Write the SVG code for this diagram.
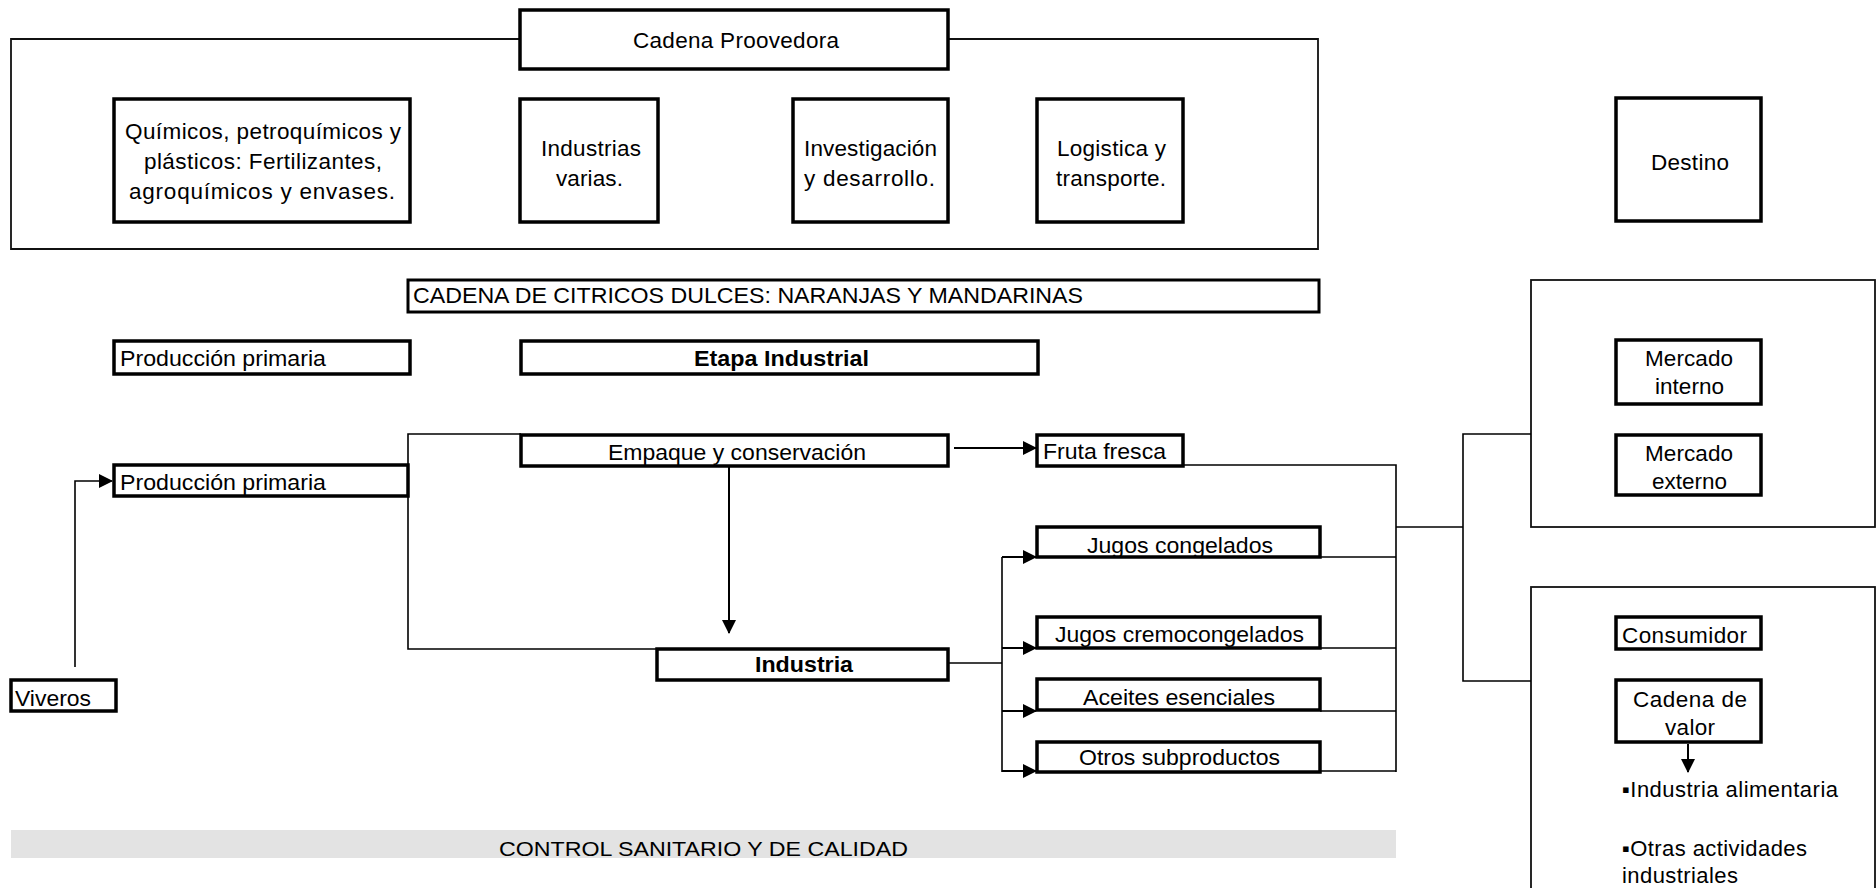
<svg xmlns="http://www.w3.org/2000/svg" width="1876" height="888" viewBox="0 0 1876 888">
<style>
  .box{fill:#fff;stroke:#000;stroke-width:3.5}
  .frame{fill:none;stroke:#111;stroke-width:1.8}
  .ln{fill:none;stroke:#000;stroke-width:1.6}
  .arr{fill:none;stroke:#000;stroke-width:2}
  text{font-family:"Liberation Sans",Arial,sans-serif;font-size:21px;fill:#000}
  .c{text-anchor:middle}
  .b{font-weight:bold}
  .k{font-size:22px}
  .t{font-size:22.5px}
</style>
<defs>
  <marker id="ah" markerUnits="userSpaceOnUse" markerWidth="14" markerHeight="16" refX="13" refY="7" orient="auto" viewBox="0 0 14 14">
    <path d="M0,0 L14,7 L0,14 Z" fill="#000"/>
  </marker>
</defs>

<rect x="11" y="830" width="1385" height="28" fill="#e3e3e3"/>
<text x="703.5" y="856" class="c" textLength="409" lengthAdjust="spacingAndGlyphs">CONTROL SANITARIO Y DE CALIDAD</text>

<g id="frames">
  <path class="frame" d="M520,39 H11 V249 H1318 V39 H948"/>
  <rect class="frame" x="1531" y="280" width="344" height="247"/>
  <rect class="frame" x="1531" y="587" width="344" height="330"/>
</g>

<g id="connectors">
  <path class="ln" d="M75,667 V481 H112" marker-end="url(#ah)"/>
  <path class="ln" d="M521,434 H408 V649 H657"/>
  <path class="arr" d="M729,467 V633" marker-end="url(#ah)"/>
  <path class="arr" d="M954,448 H1036" marker-end="url(#ah)"/>
  <path class="ln" d="M948,663 H1002"/>
  <path class="ln" d="M1002,557 V772"/>
  <path class="arr" d="M1002,557 H1036" marker-end="url(#ah)"/>
  <path class="arr" d="M1002,648 H1036" marker-end="url(#ah)"/>
  <path class="arr" d="M1002,711 H1036" marker-end="url(#ah)"/>
  <path class="arr" d="M1002,771 H1036" marker-end="url(#ah)"/>
  <path class="ln" d="M1183,465 H1396 V772"/>
  <path class="ln" d="M1320,557 H1396"/>
  <path class="ln" d="M1320,648 H1396"/>
  <path class="ln" d="M1320,711 H1396"/>
  <path class="ln" d="M1320,771 H1396"/>
  <path class="ln" d="M1396,527 H1463"/>
  <path class="ln" d="M1531,434 H1463 V681 H1531"/>
  <path class="arr" d="M1688,744 V772" marker-end="url(#ah)"/>
</g>

<g id="cadena-proovedora">
  <rect class="box" x="520" y="10" width="428" height="59"/>
  <text x="736" y="48" class="c t" textLength="206">Cadena Proovedora</text>
</g>
<g id="quimicos">
  <rect class="box" x="114" y="99" width="296" height="123"/>
  <text x="263" y="139" class="c t" textLength="276">Químicos, petroquímicos y</text>
  <text x="263" y="169" class="c t" textLength="238">plásticos: Fertilizantes,</text>
  <text x="262" y="199" class="c t" textLength="266">agroquímicos y envases.</text>
</g>
<g id="industrias-varias">
  <rect class="box" x="520" y="99" width="138" height="123"/>
  <text x="591" y="156" class="c t" textLength="100">Industrias</text>
  <text x="589.5" y="186" class="c t" textLength="67">varias.</text>
</g>
<g id="investigacion">
  <rect class="box" x="793" y="99" width="155" height="123"/>
  <text x="870.5" y="156" class="c t" textLength="133">Investigación</text>
  <text x="869.5" y="186" class="c t" textLength="131">y desarrollo.</text>
</g>
<g id="logistica">
  <rect class="box" x="1037" y="99" width="146" height="123"/>
  <text x="1111.5" y="156" class="c t" textLength="109">Logistica y</text>
  <text x="1111" y="186" class="c t" textLength="110">transporte.</text>
</g>
<g id="destino">
  <rect class="box" x="1616" y="98" width="145" height="123"/>
  <text x="1690" y="170" class="c t" textLength="78">Destino</text>
</g>

<g id="cadena-citricos">
  <rect class="box" x="408" y="280" width="911" height="32" style="stroke-width:3"/>
  <text x="413" y="303" class="k" textLength="670" lengthAdjust="spacingAndGlyphs">CADENA DE CITRICOS DULCES: NARANJAS Y MANDARINAS</text>
</g>
<g id="produccion-primaria-titulo">
  <rect class="box" x="114" y="341" width="296" height="33"/>
  <text x="120" y="366" class="k" textLength="206" lengthAdjust="spacingAndGlyphs">Producción primaria</text>
</g>
<g id="etapa-industrial">
  <rect class="box" x="521" y="341" width="517" height="33"/>
  <text x="781.5" y="366" class="k c b" textLength="175" lengthAdjust="spacingAndGlyphs">Etapa Industrial</text>
</g>
<g id="empaque">
  <rect class="box" x="521" y="435" width="427" height="31"/>
  <text x="737" y="460" class="k c" textLength="258" lengthAdjust="spacingAndGlyphs">Empaque y conservación</text>
</g>
<g id="produccion-primaria">
  <rect class="box" x="114" y="465" width="294" height="31"/>
  <text x="120" y="490" class="k" textLength="206" lengthAdjust="spacingAndGlyphs">Producción primaria</text>
</g>
<g id="viveros">
  <rect class="box" x="11" y="680" width="105" height="31"/>
  <text x="15" y="706" class="k" textLength="76" lengthAdjust="spacingAndGlyphs">Viveros</text>
</g>
<g id="industria">
  <rect class="box" x="657" y="649" width="291" height="31"/>
  <text x="804" y="672" class="k c b" textLength="98" lengthAdjust="spacingAndGlyphs">Industria</text>
</g>
<g id="fruta-fresca">
  <rect class="box" x="1037" y="435" width="146" height="31"/>
  <text x="1043" y="459" class="k" textLength="123" lengthAdjust="spacingAndGlyphs">Fruta fresca</text>
</g>
<g id="jugos-congelados">
  <rect class="box" x="1037" y="527" width="283" height="30"/>
  <text x="1180" y="553" class="k c" textLength="186" lengthAdjust="spacingAndGlyphs">Jugos congelados</text>
</g>
<g id="jugos-cremocongelados">
  <rect class="box" x="1037" y="617" width="283" height="31"/>
  <text x="1179.5" y="642" class="k c" textLength="249" lengthAdjust="spacingAndGlyphs">Jugos cremocongelados</text>
</g>
<g id="aceites">
  <rect class="box" x="1037" y="679" width="283" height="31"/>
  <text x="1179" y="705" class="k c" textLength="192" lengthAdjust="spacingAndGlyphs">Aceites esenciales</text>
</g>
<g id="otros">
  <rect class="box" x="1037" y="742" width="283" height="30"/>
  <text x="1179.5" y="765" class="k c" textLength="201" lengthAdjust="spacingAndGlyphs">Otros subproductos</text>
</g>

<g id="mercado-interno">
  <rect class="box" x="1616" y="340" width="145" height="64"/>
  <text x="1689" y="366" class="c t" textLength="88">Mercado</text>
  <text x="1689.5" y="394" class="c t" textLength="69">interno</text>
</g>
<g id="mercado-externo">
  <rect class="box" x="1616" y="435" width="145" height="60"/>
  <text x="1689" y="461" class="c t" textLength="88">Mercado</text>
  <text x="1689.5" y="489" class="c t" textLength="75">externo</text>
</g>
<g id="consumidor">
  <rect class="box" x="1616" y="617" width="145" height="32"/>
  <text x="1622" y="643" class="t" textLength="125">Consumidor</text>
</g>
<g id="cadena-valor">
  <rect class="box" x="1616" y="680" width="145" height="62"/>
  <text x="1690" y="707" class="c t" textLength="114">Cadena de</text>
  <text x="1690" y="735" class="c t" textLength="50">valor</text>
</g>
<g id="usos">
  <text x="1622" y="797" class="k" textLength="216">▪Industria alimentaria</text>
  <text x="1622" y="856" class="k" textLength="185">▪Otras actividades</text>
  <text x="1622" y="883" class="k" textLength="116">industriales</text>
</g>
</svg>
